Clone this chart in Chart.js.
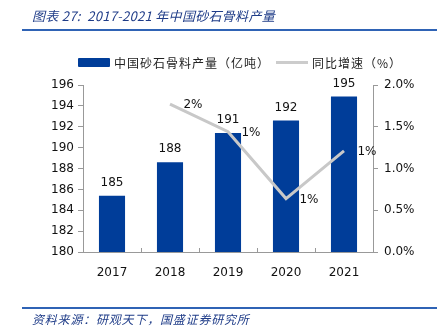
<!DOCTYPE html>
<html>
<head>
<meta charset="utf-8">
<script src="https://cdn.jsdelivr.net/npm/chart.js@4"></script>
<style>
  body { margin: 0; width: 437px; height: 333px; background: #fff; position: relative; overflow: hidden; }
  #wrap { position: absolute; left: 0; top: 0; width: 437px; height: 333px; }
  .title { position: absolute; left: 32px; top: 6px; font: italic 13px "Noto Sans CJK SC", sans-serif; color: #1f3c88; letter-spacing: 0.3px; }
  .rule { position: absolute; left: 22px; right: 0; height: 2px; background: #2f63b5; }
  .source { position: absolute; left: 32px; top: 310px; font: italic 12px "Noto Sans CJK SC", sans-serif; color: #1f3c88; letter-spacing: 0.8px; }
  .legend { position: absolute; top: 54px; font: 12px "Noto Sans CJK SC", sans-serif; color: #222; display: flex; align-items: center; letter-spacing: 1px; }
  .legend i { display: inline-block; margin-right: 4px; }
</style>
</head>
<body>
<div id="wrap"><canvas id="myChart" width="437" height="333"></canvas></div>
<div class="title">图表 27:&nbsp; 2017-2021 年中国砂石骨料产量</div>
<div class="rule" style="top:29px"></div>
<div class="legend" style="left:78px"><i style="width:32px;height:9px;background:#003d99;border-radius:1px"></i>中国砂石骨料产量（亿吨）</div>
<div class="legend" style="left:276px"><i style="width:32px;height:3px;background:#cccccc"></i>同比增速（%）</div>
<div class="rule" style="top:307px"></div>
<div class="source">资料来源：研观天下，国盛证券研究所</div>

<script>
const years = ["2017", "2018", "2019", "2020", "2021"]
const output = [185.4, 188.6, 191.4, 192.6, 194.9]   // 亿吨
const growth = [null, 1.77, 1.44, 0.64, 1.21]        // %
const outputLabels = ["185", "188", "191", "192", "195"]

const ctx = document.getElementById('myChart')

// value labels above bars and to the right of line points
const valueLabels = {
  id: 'valueLabels',
  afterDatasetsDraw(chart) {
    const c = chart.ctx
    c.save()
    c.font = '12px "DejaVu Sans", sans-serif'
    c.fillStyle = '#111'
    c.textBaseline = 'middle'
    chart.getDatasetMeta(0).data.forEach((bar, i) => {
      c.textAlign = 'center'
      c.fillText(outputLabels[i], bar.x, bar.y - 13)
    })
    chart.getDatasetMeta(1).data.forEach((pt, i) => {
      if (growth[i] === null) return
      c.textAlign = 'center'
      c.fillText(Math.round(growth[i]) + '%', pt.x + 23, pt.y + 1)
    })
    c.restore()
  }
}

// little ticks between categories on the x axis, pointing up
const catTicks = {
  id: 'catTicks',
  afterDraw(chart) {
    const c = chart.ctx
    const x = chart.scales.x
    const area = chart.chartArea
    c.save()
    c.strokeStyle = '#999'
    c.lineWidth = 1
    for (let i = 0; i <= years.length; i++) {
      const px = Math.round(x.left + (x.width / years.length) * i) + 0.5
      c.beginPath()
      c.moveTo(px, area.bottom)
      c.lineTo(px, area.bottom - 4)
      c.stroke()
    }
    c.restore()
  }
}

const myChart = new Chart(ctx, {
  type: 'bar',
  data: {
    labels: years,
    datasets: [{
      label: '中国砂石骨料产量（亿吨）',
      data: output,
      backgroundColor: '#003d99',
      categoryPercentage: 1,
      barPercentage: 0.45,
      yAxisID: 'y',
      order: 2
    }, {
      type: 'line',
      label: '同比增速（%）',
      data: growth,
      borderColor: '#c8c8c8',
      borderWidth: 3,
      pointRadius: 0,
      tension: 0,
      yAxisID: 'y1',
      order: 1
    }]
  },
  options: {
    responsive: false,
    animation: false,
    layout: { padding: { top: 85, left: 0, right: 0, bottom: 0 } },
    plugins: { legend: { display: false }, title: { display: false }, tooltip: { enabled: false } },
    scales: {
      x: {
        grid: { display: false },
        border: { color: '#999' },
        ticks: { color: '#111', font: { family: 'DejaVu Sans', size: 12 }, padding: 6 },
        afterFit(s) { s.height = 81 }
      },
      y: {
        position: 'left',
        min: 180, max: 196,
        grid: { drawOnChartArea: false, tickLength: 5, color: '#999' },
        border: { color: '#999' },
        ticks: { stepSize: 2, color: '#111', font: { family: 'DejaVu Sans', size: 12 }, padding: 4 },
        afterFit(s) { s.width = 83 }
      },
      y1: {
        position: 'right',
        min: 0, max: 2,
        grid: { drawOnChartArea: false, tickLength: 5, color: '#999' },
        border: { color: '#999' },
        ticks: {
          stepSize: 0.5, color: '#111', font: { family: 'DejaVu Sans', size: 12 }, padding: 6,
          callback: v => v.toFixed(1) + '%'
        },
        afterFit(s) { s.width = 64 }
      }
    }
  },
  plugins: [valueLabels, catTicks]
})
</script>
</body>
</html>
